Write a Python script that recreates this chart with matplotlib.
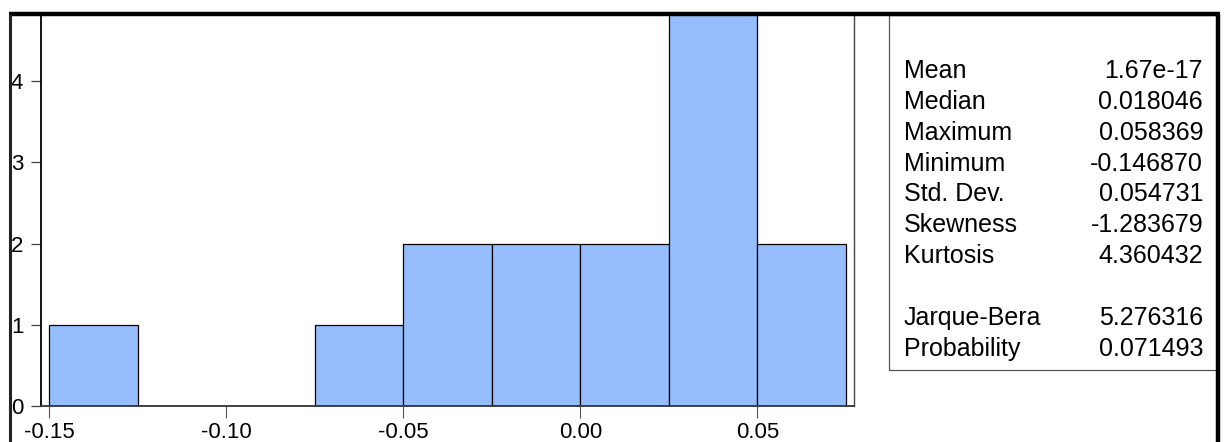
import numpy as np
import matplotlib
matplotlib.use("Agg")
import matplotlib.pyplot as plt
from matplotlib.lines import Line2D
from matplotlib.patches import Rectangle

# histogram data (bin edges and counts)
bin_edges = [-0.150, -0.125, -0.100, -0.075, -0.050, -0.025, 0.000, 0.025, 0.050, 0.075]
counts = [1, 0, 0, 1, 2, 2, 2, 5, 2]
xticks = [-0.15, -0.10, -0.05, 0.00, 0.05]
xtick_labels = ["-0.15", "-0.10", "-0.05", "0.00", "0.05"]
yticks = [0, 1, 2, 3, 4]

stat_names = ["Mean", "Median", "Maximum", "Minimum", "Std. Dev.", "Skewness", "Kurtosis",
              "", "Jarque-Bera", "Probability"]
stat_values = ["1.67e-17", "0.018046", "0.058369", "-0.146870", "0.054731", "-1.283679",
               "4.360432", "", "5.276316", "0.071493"]

plt.rcParams['font.family'] = ['Liberation Sans', 'DejaVu Sans']

W, H = 1226, 442
fig = plt.figure(figsize=(W / 100, H / 100), dpi=100)

def px(x, y):
    # figure fraction from image pixel coords (origin top-left)
    return x / W, 1 - y / H

ax_left, ax_right, ax_top, ax_bottom = 40.7, 854, 15, 405.6
ax = fig.add_axes([ax_left / W, 1 - ax_bottom / H, (ax_right - ax_left) / W, (ax_bottom - ax_top) / H])

edges = np.array(bin_edges)
ax.bar(edges[:-1], counts, width=np.diff(edges), align='edge',
       color='#96BEFF', edgecolor='black', linewidth=0.9, zorder=2)

ax.set_xlim(-0.1524, 0.0773)
ax.set_ylim(0, 4.82)
ax.set_xticks(xticks)
ax.set_xticklabels(xtick_labels)
ax.set_yticks(yticks)
ax.set_yticklabels([str(v) for v in yticks])
ax.tick_params(axis='x', labelsize=16, length=8.5, width=0.8, pad=3.5, color='#555555')
ax.tick_params(axis='y', labelsize=16, length=7, width=0.9, pad=14.5, color='#444444')
plt.setp(ax.get_yticklabels(), ha='left')

ax.spines['top'].set_visible(False)
ax.spines['left'].set_linewidth(1.3)
ax.spines['bottom'].set_linewidth(1.3)
ax.spines['bottom'].set_color('#333333')
ax.spines['right'].set_linewidth(1.0)
ax.spines['right'].set_color('#444444')

# outer frame (thick top, left, right)
border = dict(color='black', solid_capstyle='butt')
x0, y0 = px(10, 13.5)
x1, _ = px(1218, 0)
fig.add_artist(Line2D([x0 - 1.5 / W, x1 + 1.5 / W], [y0, y0], lw=3.2, **border))
fig.add_artist(Line2D([x0, x0], [y0, 0], lw=2.2, color='#222222', solid_capstyle='butt'))
fig.add_artist(Line2D([x1, x1], [y0, 0], lw=3.2, **border))

# statistics box
bx0, by0 = px(889, 370)
bx1, by1 = px(1218, 15)
fig.add_artist(Rectangle((bx0, by0), bx1 - bx0, by1 - by0, fill=False,
                         edgecolor='#555555', linewidth=0.9))

row_y = 78
for name, val in zip(stat_names, stat_values):
    if name:
        fx, fy = px(904, row_y)
        fig.text(fx, fy, name, fontsize=18, ha='left', va='baseline')
        fx, fy = px(1203, row_y)
        fig.text(fx, fy, val, fontsize=18, ha='right', va='baseline')
    row_y += 30.85

fig.savefig("out.png", dpi=100)
